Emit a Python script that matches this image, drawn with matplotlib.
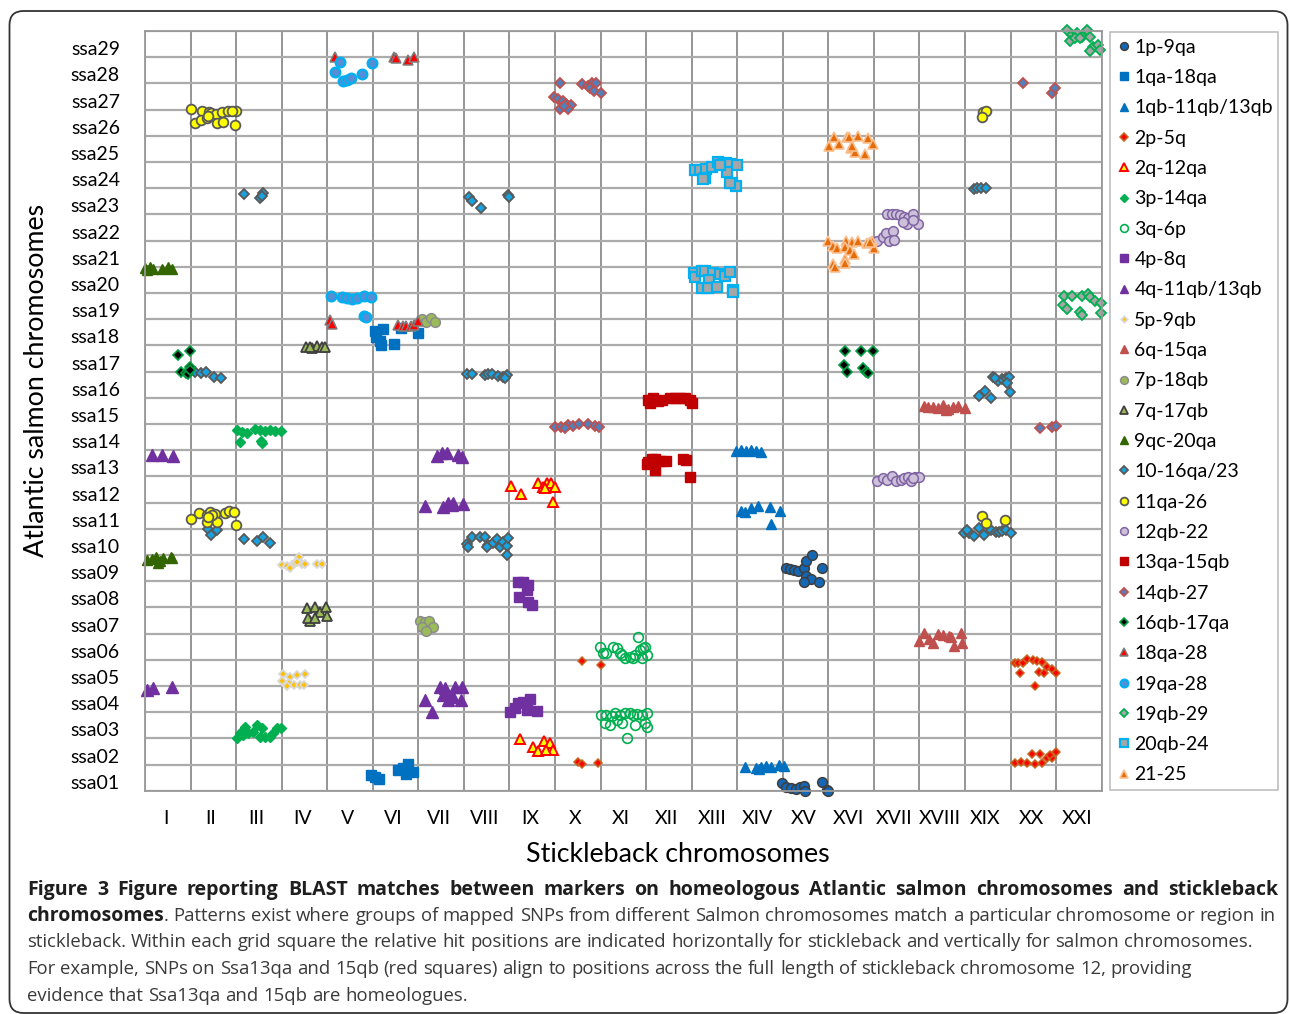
import matplotlib
matplotlib.use("Agg")
import matplotlib.pyplot as plt
from matplotlib.patches import FancyBboxPatch

plt.rcParams["font.family"] = ["Lato", "DejaVu Sans"]

# ---- axis categories -------------------------------------------------------
stickleback = ["I", "II", "III", "IV", "V", "VI", "VII", "VIII", "IX", "X", "XI",
               "XII", "XIII", "XIV", "XV", "XVI", "XVII", "XVIII", "XIX", "XX", "XXI"]
salmon = ["ssa%02d" % k for k in range(1, 30)]

# ---- hit positions: x = stickleback chromosome + relative position,
#      y = salmon chromosome + relative position -----------------------------
x_1p_9qa = [14.06, 14.16, 14.24, 14.34, 14.46, 14.51, 14.65, 14.86, 14.52, 14.61, 14.46, 14.79,
            13.99, 14.08, 14.19, 14.30, 14.37, 14.46, 14.48, 14.87, 14.96, 15.0]
y_1p_9qa = [8.49, 8.45, 8.42, 8.40, 8.49, 8.77, 9.0, 8.52, 8.19, 8.08, 7.98, 7.98,
            0.28, 0.15, 0.09, 0.05, 0.13, 0.18, 0.0, 0.34, 0.03, 0.0]

x_1qa_18qa = [5.05, 5.23, 5.07, 5.16, 5.19, 5.47, 6.0, 5.63,
              4.96, 5.05, 5.14, 5.56, 5.67, 5.78, 5.74, 5.89]
y_1qa_18qa = [17.55, 17.61, 17.33, 17.18, 17.02, 17.05, 17.46, 17.65,
              0.60, 0.53, 0.43, 0.79, 0.85, 1.02, 0.64, 0.73]

x_1qb_11qb = [12.98, 13.09, 13.19, 13.30, 13.41, 13.52,
              13.09, 13.17, 13.31, 13.45, 13.72, 13.94, 13.74,
              13.17, 13.41, 13.52, 13.63, 13.74, 13.92, 14.03, 13.48]
y_1qb_11qb = [12.98, 13.0, 12.98, 13.0, 12.98, 12.94,
              10.69, 10.65, 10.81, 10.87, 10.84, 10.69, 10.18,
              0.89, 0.85, 0.92, 0.94, 0.92, 0.98, 0.94, 0.81]

x_2p_5q = [9.60, 10.0, 9.50, 9.60, 9.94,
           19.09, 19.17, 19.28, 19.37, 19.49, 19.59, 19.70, 19.81, 19.92, 20.0, 19.20, 19.63, 19.54, 19.74,
           19.09, 19.22, 19.35, 19.46, 19.64, 19.53, 19.68, 19.79, 19.90, 19.99, 19.86]
y_2p_5q = [4.96, 4.80, 1.11, 1.02, 1.07,
           4.86, 4.86, 4.89, 5.01, 4.99, 4.96, 4.92, 4.73, 4.63, 4.48, 4.50, 4.54, 4.01, 4.48,
           1.04, 1.11, 1.04, 1.42, 1.42, 1.02, 1.07, 1.23, 1.23, 1.49, 1.36]

x_2q_12qa = [8.03, 8.25, 8.63, 8.74, 8.83, 8.92, 9.0, 8.78, 8.95,
             8.23, 8.52, 8.63, 8.76, 8.89, 8.96, 8.80]
y_2q_12qa = [11.64, 11.32, 11.73, 11.60, 11.73, 11.76, 11.60, 11.54, 11.03,
             1.96, 1.68, 1.53, 1.91, 1.81, 1.55, 1.55]

x_3p_14qa = [2.01, 2.12, 2.23, 2.41, 2.52, 2.63, 2.74, 2.85, 2.98, 2.08, 2.54, 2.56,
             2.01, 2.08, 2.19, 2.27, 2.38, 2.45, 2.56, 2.63, 2.74, 2.82, 2.89, 2.98, 2.52, 2.16]
y_3p_14qa = [13.77, 13.70, 13.66, 13.79, 13.77, 13.74, 13.77, 13.74, 13.73, 13.32, 13.36, 13.28,
             2.0, 2.19, 2.44, 2.19, 2.25, 2.51, 2.38, 2.06, 2.06, 2.19, 2.38, 2.38, 2.04, 2.12]

x_3q_6p = [9.99, 10.13, 10.28, 10.35, 10.06, 10.46, 10.53, 10.64, 10.75, 10.83, 10.86, 10.94,
           10.97, 10.90, 11.01, 10.72, 10.42,
           10.02, 10.13, 10.24, 10.31, 10.42, 10.53, 10.64, 10.79, 10.90, 11.01, 10.09, 10.20,
           10.35, 10.46, 10.75, 10.97, 11.01, 10.57, 10.72]
y_3q_6p = [5.50, 5.27, 5.50, 5.43, 5.24, 5.18, 5.05, 5.11, 5.18, 5.85, 5.37, 5.43,
           5.50, 5.05, 5.18, 5.05, 5.24,
           2.89, 2.89, 2.85, 2.95, 2.89, 2.95, 2.95, 2.93, 2.89, 2.98, 2.57, 2.51,
           2.70, 2.57, 2.51, 2.57, 2.44, 2.0, 2.89]

x_4p_8q = [8.19, 8.30, 8.41, 8.38, 8.21, 8.41, 8.49,
           8.01, 8.19, 8.30, 8.45, 8.38, 8.61, 8.12]
y_4p_8q = [7.98, 7.98, 7.85, 7.66, 7.40, 7.21, 7.09,
           3.02, 3.33, 3.40, 3.49, 3.08, 3.04, 3.14]

x_4q_11qb = [0.15, 0.38, 0.62, 0.04, 0.17, 0.59,
             6.40, 6.51, 6.62, 6.88, 6.95,
             6.14, 6.55, 6.66, 6.77, 6.99, 6.73,
             6.47, 6.58, 6.80, 6.95, 6.14, 6.29, 6.55, 6.66, 6.77, 6.93, 6.62]
y_4q_11qb = [12.81, 12.81, 12.79, 3.84, 3.91, 3.97,
             12.77, 12.88, 12.88, 12.81, 12.72,
             10.87, 10.84, 10.97, 10.97, 10.94, 10.90,
             3.97, 3.91, 3.97, 3.94, 3.46, 3.02, 3.65, 3.46, 3.59, 3.46, 3.72]

x_5p_9qb = [3.0, 3.11, 3.22, 3.29, 3.37, 3.44, 3.51, 3.77, 3.88, 3.18, 3.34,
            3.04, 3.18, 3.33, 3.51, 3.0, 3.15, 3.26, 3.11, 3.40, 3.49]
y_5p_9qb = [8.61, 8.57, 8.61, 8.70, 8.93, 8.65, 8.65, 8.65, 8.65, 8.52, 8.74,
            4.45, 4.35, 4.41, 4.45, 4.20, 4.12, 4.03, 4.0, 4.03, 4.03]

x_6q_15qa = [17.10, 17.30, 17.41, 17.52, 17.63, 17.74, 17.85, 18.0, 17.19, 17.59,
             16.99, 17.10, 17.29, 17.40, 17.51, 17.64, 17.76, 17.91, 17.94, 17.69, 17.21]
y_6q_15qa = [14.69, 14.66, 14.60, 14.73, 14.56, 14.63, 14.69, 14.62, 14.63, 14.53,
             5.73, 6.01, 5.62, 5.98, 5.94, 5.90, 5.52, 6.01, 5.65, 5.88, 5.78]

x_7p_18qb = [6.07, 6.17, 6.27, 6.36, 6.04, 6.14, 6.24, 6.09, 6.33, 6.17]
y_7p_18qb = [17.99, 17.91, 18.03, 17.88, 6.49, 6.45, 6.49, 6.26, 6.23, 6.11]

x_7q_17qb = [3.53, 3.66, 3.77, 3.88, 3.96, 3.62,
             3.56, 3.73, 3.84, 3.97, 4.0, 3.62, 3.58, 3.73]
y_7q_17qb = [16.95, 16.89, 16.99, 16.93, 16.94, 16.93,
             6.96, 7.0, 6.83, 7.0, 6.67, 6.49, 6.58, 6.58]

x_9qc_20qa = [0.0, 0.10, 0.18, 0.37, 0.51, 0.60, 0.04,
              0.04, 0.15, 0.24, 0.33, 0.40, 0.60, 0.29, 0.56]
y_9qc_20qa = [19.94, 20.0, 19.90, 19.92, 20.0, 19.90, 19.88,
              8.80, 8.83, 8.93, 8.78, 8.87, 8.87, 8.70, 8.93]

x_10_16qa = [2.17, 2.52, 2.60, 2.56,
             7.12, 7.18, 7.37, 7.97, 8.00,
             1.10, 1.24, 1.34, 1.51, 1.67,
             7.06, 7.17, 7.46, 7.53, 7.61, 7.75, 7.86, 7.94, 7.90,
             18.20, 18.27, 18.35, 18.46,
             18.62, 18.73, 18.81, 18.89, 18.96, 18.92, 18.99, 18.30, 18.43, 18.56, 18.65,
             1.39, 1.59, 1.44,
             2.18, 2.45, 2.58, 2.74,
             7.06, 7.17, 7.35, 7.46, 7.53, 7.64, 7.72, 7.79, 7.86, 7.94, 7.97, 7.95, 7.08, 7.50,
             17.98, 18.09, 18.20, 18.31, 18.42, 18.57, 18.68, 18.75, 18.82, 18.91, 19.0, 18.05]
y_10_16qa = [22.77, 22.64, 22.80, 22.72,
             22.68, 22.52, 22.26, 22.74, 22.68,
             16.0, 15.96, 16.0, 15.78, 15.74,
             15.90, 15.90, 15.87, 15.90, 15.90, 15.83, 15.81, 15.87, 15.74,
             22.97, 23.0, 23.0, 23.0,
             15.78, 15.65, 15.70, 15.74, 15.81, 15.55, 15.23, 15.07, 15.27, 15.0, 15.74,
             10.0, 9.97, 9.76,
             9.61, 9.52, 9.67, 9.44,
             9.41, 9.69, 9.69, 9.69, 9.38, 9.44, 9.59, 9.31, 9.50, 9.35, 9.63, 9.0, 9.31, 9.31,
             9.82, 9.85, 9.72, 10.01, 9.76, 9.97, 9.89, 9.89, 9.91, 9.97, 9.82, 9.97]

x_11qa_26 = [1.01, 1.25, 1.41, 1.45, 1.56, 1.68, 1.83, 2.00, 1.10, 1.23, 1.35, 1.39, 1.59, 1.72, 1.98, 1.90,
             1.02, 1.19, 1.35, 1.43, 1.54, 1.76, 1.85, 1.95, 1.35, 1.59, 2.0, 1.46, 1.39,
             18.40, 18.46, 18.38, 18.38, 18.45, 18.87]
y_11qa_26 = [26.01, 25.96, 25.91, 25.86, 25.84, 25.92, 25.95, 25.96, 25.50, 25.60, 25.69, 25.74, 25.48,
             25.53, 25.41, 25.96,
             10.36, 10.61, 10.52, 10.65, 10.56, 10.61, 10.67, 10.65, 10.27, 10.25, 10.13, 10.52, 10.43,
             25.92, 25.96, 25.73, 10.48, 10.23, 10.33]

x_12qb_22 = [16.28, 16.39, 16.48, 16.57, 16.66, 16.75, 16.86, 16.97, 16.72, 16.64, 16.06, 16.20,
             16.26, 16.42, 16.34, 16.45, 16.85,
             16.06, 16.19, 16.29, 16.39, 16.48, 16.59, 16.66, 16.74, 16.81, 16.91, 17.0, 16.85]
y_12qb_22 = [22.0, 22.02, 22.0, 21.98, 21.91, 21.85, 22.0, 21.62, 21.63, 21.72, 20.98, 21.13,
             21.29, 21.38, 21.0, 21.04, 21.79,
             11.83, 11.92, 11.86, 12.01, 11.83, 11.86, 11.92, 11.98, 11.83, 11.98, 11.98, 11.92]

x_13qa_15qb = [11.05, 11.16, 11.27, 11.34, 11.52, 11.63, 11.74, 11.85, 11.96, 12.0, 11.08,
               11.01, 11.12, 11.19, 11.30, 11.43, 11.81, 11.87, 11.19, 11.96, 11.05]
y_13qa_15qb = [14.92, 14.98, 14.89, 14.92, 15.0, 15.0, 14.98, 15.0, 14.92, 14.79, 14.79,
               12.49, 12.65, 12.68, 12.60, 12.60, 12.65, 12.62, 12.24, 11.98, 12.56]

x_14qb_27 = [9.10, 9.60, 9.73, 9.82, 9.90, 9.77, 9.85, 10.00, 8.98, 9.07, 9.17, 9.25, 9.34, 9.12,
             9.29, 9.20,
             19.28, 19.90, 19.98,
             9.0, 9.14, 9.29, 9.40, 9.53, 9.73, 9.88, 9.97, 9.22,
             19.64, 19.90, 19.99]
y_14qb_27 = [27.0, 26.98, 26.91, 27.03, 27.0, 26.81, 26.72, 26.63, 26.49, 26.40, 26.34, 26.21, 26.19,
             26.01, 26.01, 26.14,
             27.0, 26.62, 26.84,
             13.87, 13.87, 13.96, 13.92, 14.0, 14.0, 13.92, 13.87, 13.83,
             13.85, 13.87, 13.94]

x_16qb_17qa = [0.73, 0.99, 0.99, 0.80, 0.91, 0.95, 0.99,
               15.36, 15.71, 15.97, 15.34, 15.41, 15.75, 15.82, 15.88]
y_16qb_17qa = [16.62, 16.79, 16.19, 16.0, 15.96, 15.91, 16.06,
               16.79, 16.80, 16.80, 16.25, 16.0, 16.12, 16.0, 15.93]

x_18qa_28 = [4.18, 5.46, 5.51, 5.78, 5.90, 4.06, 4.11, 5.56, 5.67, 5.74, 5.83, 5.90, 6.0]
y_18qa_28 = [28.02, 27.99, 27.98, 27.89, 27.99, 17.97, 17.82, 17.78, 17.74, 17.72, 17.74, 17.78, 17.94]

x_19qa_28 = [4.29, 4.16, 4.35, 4.44, 4.53, 4.77, 4.99,
             4.08, 4.32, 4.43, 4.54, 4.65, 4.81, 4.95, 4.81, 4.85]
y_19qa_28 = [27.83, 27.44, 27.08, 27.13, 27.19, 27.35, 27.77,
             18.87, 18.83, 18.82, 18.76, 18.81, 18.87, 18.85, 18.12, 18.08]

x_19qb_29 = [20.23, 20.34, 20.45, 20.56, 20.67, 20.74, 20.81, 20.92, 20.96, 20.30, 20.41, 20.52, 20.74,
             20.17, 20.34, 20.57, 20.70, 20.74, 20.86, 20.99, 20.15, 20.23, 20.52, 20.56, 20.98]
y_19qb_29 = [29.04, 28.85, 28.91, 28.76, 29.04, 28.78, 28.40, 28.47, 28.27, 28.63, 28.72, 28.72, 28.25,
             18.89, 18.89, 18.89, 18.96, 18.86, 18.71, 18.63, 18.54, 18.38, 18.29, 18.16, 18.22]

x_20qb_24 = [12.07, 12.18, 12.31, 12.44, 12.58, 12.68, 12.75, 12.85, 13.0, 12.78, 12.29, 12.24,
             12.89, 12.97, 12.84, 12.62,
             12.06, 12.07, 12.22, 12.29, 12.47, 12.62, 12.73, 12.84, 12.38, 12.22, 12.35, 12.55,
             12.91, 12.90]
y_20qb_24 = [23.69, 23.69, 23.72, 23.82, 24.01, 23.92, 23.95, 23.92, 23.89, 23.63, 23.38, 23.34,
             23.19, 23.08, 23.21, 23.89,
             19.78, 19.60, 19.85, 19.85, 19.75, 19.73, 19.65, 19.81, 19.50, 19.20, 19.20, 19.24,
             19.11, 19.05]

x_21_25 = [15.13, 15.41, 15.46, 15.65, 15.86, 15.98, 15.02, 15.24, 15.49, 15.58, 15.81, 15.52,
           15.0, 15.11, 15.19, 15.38, 15.51, 15.65, 15.84, 15.95, 16.0, 15.36, 15.47, 15.56,
           15.36, 15.36, 15.11, 15.14, 15.91]
y_21_25 = [24.97, 24.97, 24.94, 25.0, 24.90, 24.69, 24.62, 24.69, 24.52, 24.37, 24.30, 24.61,
           20.98, 20.79, 20.70, 20.98, 20.96, 21.0, 20.92, 21.0, 20.70, 20.77, 20.64, 20.48,
           20.30, 20.13, 20.09, 19.98, 20.96]

# label, x, y, marker style (marker, size, face, edge, edge width)
series = [
    ("1p-9qa", x_1p_9qa, y_1p_9qa, ("o", 7, "#1467B4", "#3F3F3F", 1.1)),
    ("1qa-18qa", x_1qa_18qa, y_1qa_18qa, ("s", 6.5, "#0070C0", "#0070C0", 1.0)),
    ("1qb-11qb/13qb", x_1qb_11qb, y_1qb_11qb, ("^", 7, "#0070C0", "#0070C0", 1.0)),
    ("2p-5q", x_2p_5q, y_2p_5q, ("D", 4.5, "#FF0000", "#C8651E", 1.1)),
    ("2q-12qa", x_2q_12qa, y_2q_12qa, ("^", 6.5, "#FFFF00", "#FF0000", 1.4)),
    ("3p-14qa", x_3p_14qa, y_3p_14qa, ("D", 5, "#00B050", "#00B050", 1.0)),
    ("3q-6p", x_3q_6p, y_3q_6p, ("o", 7, "none", "#00B050", 1.2)),
    ("4p-8q", x_4p_8q, y_4p_8q, ("s", 7, "#7030A0", "#7030A0", 1.0)),
    ("4q-11qb/13qb", x_4q_11qb, y_4q_11qb, ("^", 8, "#7030A0", "#7030A0", 1.0)),
    ("5p-9qb", x_5p_9qb, y_5p_9qb, ("D", 4, "#FFC000", "#D9D9D9", 1.3)),
    ("6q-15qa", x_6q_15qa, y_6q_15qa, ("^", 7.5, "#C0504D", "#C0504D", 1.0)),
    ("7p-18qb", x_7p_18qb, y_7p_18qb, ("o", 7, "#9BBB59", "#8C8C8C", 1.1)),
    ("7q-17qb", x_7q_17qb, y_7q_17qb, ("^", 6.5, "#9BBB59", "#404040", 1.3)),
    ("9qc-20qa", x_9qc_20qa, y_9qc_20qa, ("^", 7.5, "#336600", "#336600", 1.0)),
    ("10-16qa/23", x_10_16qa, y_10_16qa, ("D", 5, "#17A2E0", "#595959", 1.3)),
    ("11qa-26", x_11qa_26, y_11qa_26, ("o", 7, "#FFFF00", "#595959", 1.3)),
    ("12qb-22", x_12qb_22, y_12qb_22, ("o", 7, "#CCC0DA", "#8064A2", 1.1)),
    ("13qa-15qb", x_13qa_15qb, y_13qa_15qb, ("s", 7, "#C00000", "#C00000", 1.0)),
    ("14qb-27", x_14qb_27, y_14qb_27, ("D", 5, "#4F81BD", "#C0504D", 1.3)),
    ("16qb-17qa", x_16qb_17qa, y_16qb_17qa, ("D", 5, "#000000", "#00A040", 1.2)),
    ("18qa-28", x_18qa_28, y_18qa_28, ("^", 6.5, "#FF0000", "#7F7F7F", 1.1)),
    ("19qa-28", x_19qa_28, y_19qa_28, ("o", 7, "#558ED5", "#00B0F0", 1.6)),
    ("19qb-29", x_19qb_29, y_19qb_29, ("D", 5, "#A6A6A6", "#00B050", 1.3)),
    ("20qb-24", x_20qb_24, y_20qb_24, ("s", 6.5, "#A6A6A6", "#00B0F0", 1.6)),
    ("21-25", x_21_25, y_21_25, ("^", 6.5, "#E46C0A", "#FAC090", 1.2)),
]

# ---- figure ----------------------------------------------------------------
W, H = 1290, 1014
fig = plt.figure(figsize=(W / 100, H / 100), dpi=100)

# full-figure overlay in pixel units for frame, titles and caption
bg = fig.add_axes([0, 0, 1, 1])
bg.set_xlim(0, W)
bg.set_ylim(H, 0)
bg.axis("off")
bg.add_patch(FancyBboxPatch((9.5, 11), 1278, 1002, boxstyle="round,pad=0,rounding_size=14",
                            fill=False, ec="#333333", lw=1.3))

ax = fig.add_axes([145 / W, 1 - 790.7 / H, 956.7 / W, 759.7 / H])
ax.set_zorder(2)
ax.set_xlim(0, len(stickleback))
ax.set_ylim(0, len(salmon))

ax.set_xticks([i + 0.45 for i in range(len(stickleback))])
ax.set_xticklabels(stickleback)
ax.set_xticks(range(len(stickleback) + 1), minor=True)
ax.set_yticks([k + 0.34 for k in range(len(salmon))])
ax.set_yticklabels(salmon)
ax.set_yticks(range(len(salmon) + 1), minor=True)
ax.tick_params(which="both", length=0)
ax.tick_params(axis="y", pad=18, labelsize=14)
ax.tick_params(axis="x", pad=14, labelsize=14)
ax.grid(which="minor", axis="x", color="#8C8C8C", lw=1.3)
ax.grid(which="minor", axis="y", color="#ABABAB", lw=1.6)
ax.set_axisbelow(True)
for sp in ax.spines.values():
    sp.set_color("#999999")
    sp.set_linewidth(1.3)

for label, xs, ys, (mk, ms, fc, ec, mew) in series:
    ax.plot(xs, ys, ls="none", marker=mk, ms=ms, mfc=fc, mec=ec, mew=mew,
            clip_on=False, label=label)

leg = ax.legend(loc="upper left", bbox_to_anchor=(1110 / W, 1 - 788 / H, 168 / W, 756 / H),
                bbox_transform=fig.transFigure, mode="expand", borderaxespad=0,
                fontsize=14, markerscale=0.8, handlelength=0.7, handletextpad=0.2,
                borderpad=0.35, labelspacing=0.685, frameon=True, fancybox=False,
                edgecolor="#BFBFBF", framealpha=1)
leg.get_frame().set_linewidth(1.2)

bg.text(678, 855, "Stickleback chromosomes", fontsize=19.3, ha="center", va="center")
bg.text(37, 380, "Atlantic salmon chromosomes", fontsize=19.3, ha="center", va="center",
        rotation=90)

# ---- caption ---------------------------------------------------------------
CAP_FONT = ["Open Sans", "DejaVu Sans"]
renderer = fig.canvas.get_renderer()


def caption_line(tokens, y, right=None, left=27):
    """tokens: (text, bold, glued-to-previous). Justified when right is given."""
    arts = []
    for text, bold, glue in tokens:
        t = bg.text(left, y, text, fontsize=14 if bold else 13.3, family=CAP_FONT,
                    va="baseline", weight="bold" if bold else "normal",
                    color="#1E1E1E" if bold else "#3A3A3A")
        arts.append((t, glue))
    widths = [t.get_window_extent(renderer).width for t, _ in arts]
    ngaps = sum(1 for _, g in arts[1:] if not g)
    gap = 0.26 * 13.3 * 100 / 72
    if right is not None:
        gap = (right - left - sum(widths)) / max(ngaps, 1)
    x = left
    for i, ((t, glue), w) in enumerate(zip(arts, widths)):
        if i > 0 and not glue:
            x += gap
        t.set_x(x)
        x += w


def words(s, bold=False):
    return [(w, bold, False) for w in s.split()]


caption_line(words("Figure 3 Figure reporting BLAST matches between markers on homeologous "
                   "Atlantic salmon chromosomes and stickleback", bold=True), 895, right=1278)
caption_line([("chromosomes", True, False), (".", False, True)]
             + words("Patterns exist where groups of mapped SNPs from different Salmon chromosomes "
                     "match a particular chromosome or region in"), 921, right=1276)
caption_line(words("stickleback. Within each grid square the relative hit positions are indicated "
                   "horizontally for stickleback and vertically for salmon chromosomes."), 947)
caption_line(words("For example, SNPs on Ssa13qa and 15qb (red squares) align to positions across "
                   "the full length of stickleback chromosome 12, providing"), 974)
caption_line(words("evidence that Ssa13qa and 15qb are homeologues."), 1001)

fig.savefig("out.png", dpi=100)
